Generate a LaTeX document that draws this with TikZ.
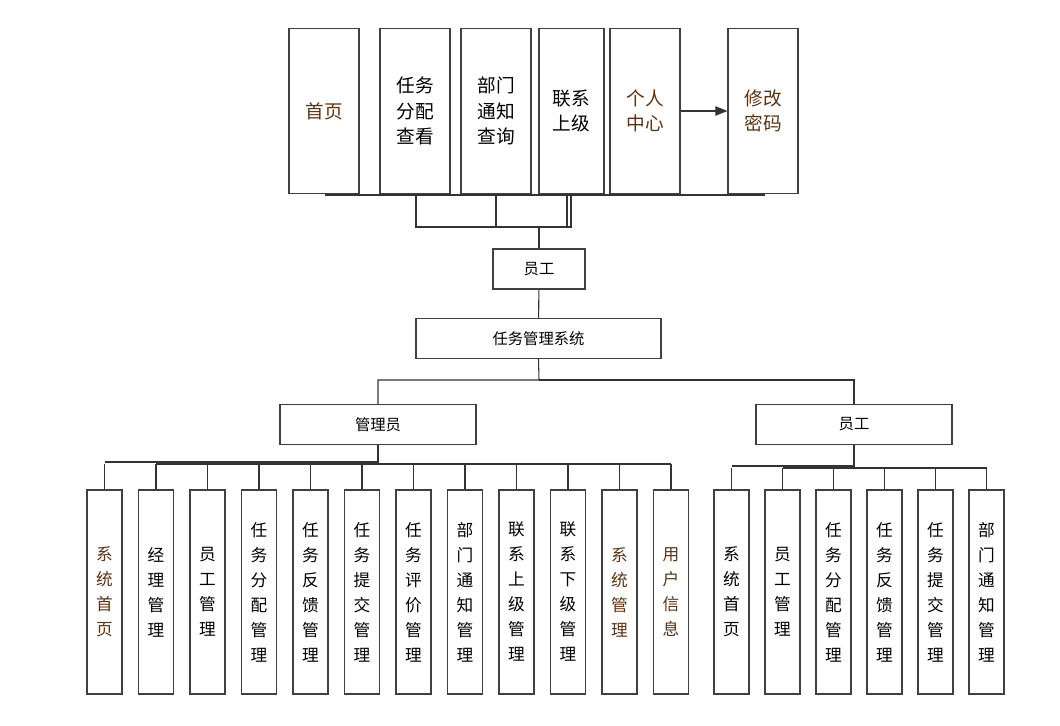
\documentclass[tikz,border=0pt]{standalone}
\usepackage{fontspec}
\setmainfont{Noto Sans CJK SC}
\usetikzlibrary{arrows.meta}
\definecolor{brn}{RGB}{90,50,20}
\tikzset{
  box/.style={draw=black!75, line width=0.9pt, inner sep=0pt, align=center},
  top/.style={box, minimum width=52.5pt, minimum height=123.75pt, font=\fontsize{14pt}{19pt}\selectfont},
  mid/.style={box, minimum height=30pt, font=\fontsize{11.5pt}{13pt}\selectfont},
  leaf/.style={box, minimum width=26.25pt, minimum height=153pt, text width=14pt, font=\fontsize{12.5pt}{18.75pt}\selectfont},
  wire/.style={draw=black!80, line width=0.8pt}
}
\begin{document}
\begin{tikzpicture}[x=0.75pt, y=-0.75pt]
\useasboundingbox (0,0) rectangle (1060,725);
% top row
\node[top, text=brn] (home) at (324,111) {首页};
\node[top] (task) at (415,111) {任务\\分配\\查看};
\node[top] (dept) at (496,111) {部门\\通知\\查询};
\node[top, minimum width=48.75pt] (boss) at (571.5,111) {联系\\上级};
\node[top, text=brn] (me) at (645,111) {个人\\中心};
\node[top, text=brn] (pwd) at (763,111) {修改\\密码};
\draw[wire, -{Triangle[length=9pt, width=7pt]}] (me) -- (pwd);
\draw[wire] (325,195) -- (765,195);
% employee
\node[mid, minimum width=69pt] (emp) at (539,269) {员工};
\node[mid, minimum width=183.75pt] (sys) at (538.5,338.5) {任务管理系统};
\coordinate (j) at (539,227);
\draw[wire] (416,195) |- (j) -- (emp);
\draw[wire] (496,195) -- (496,227);
\draw[wire] (567,195) -- (567,227);
\draw[wire] (571,195) -- (571,227) -- (j);
\draw[wire] (emp) -- (sys);
% second level
\node[mid, minimum width=147pt] (adm) at (378,424.5) {管理员};
\node[mid, minimum width=147pt] (emp2) at (854,424.5) {员工};
\draw[wire] (sys.south) -- (539,380) -| (adm);
\draw[wire] (539,380) -| (emp2);
% admin leaves
\foreach \t/\c [count=\i from 0] in {系\\统\\首\\页/brn, 经\\理\\管\\理/black, 员\\工\\管\\理/black,
  任\\务\\分\\配\\管\\理/black, 任\\务\\反\\馈\\管\\理/black, 任\\务\\提\\交\\管\\理/black,
  任\\务\\评\\价\\管\\理/black, 部\\门\\通\\知\\管\\理/black, 联\\系\\上\\级\\管\\理/black,
  联\\系\\下\\级\\管\\理/black, 系\\统\\管\\理/brn, 用\\户\\信\\息/brn}{
  \pgfmathsetmacro{\xx}{104.5+51.5*\i}
  \node[leaf, text=\c] (a\i) at (\xx,592) {\t};
  \draw[wire] (a\i.north) -- (\xx,464);
}
\draw[wire] (adm.south) -- (378,462) -- (104.5,462);
\draw[wire] (156,464) -- (671,464);
% employee leaves
\foreach \t [count=\i from 0] in {系\\统\\首\\页, 员\\工\\管\\理, 任\\务\\分\\配\\管\\理,
  任\\务\\反\\馈\\管\\理, 任\\务\\提\\交\\管\\理, 部\\门\\通\\知\\管\\理}{
  \pgfmathsetmacro{\xx}{731.5+51*\i}
  \node[leaf] (e\i) at (\xx,592) {\t};
  \draw[wire] (e\i.north) -- (\xx,468);
}
\draw[wire] (emp2.south) -- (854,466) -- (731.5,466);
\draw[wire] (782.5,468) -- (986.5,468);
\end{tikzpicture}
\end{document}
